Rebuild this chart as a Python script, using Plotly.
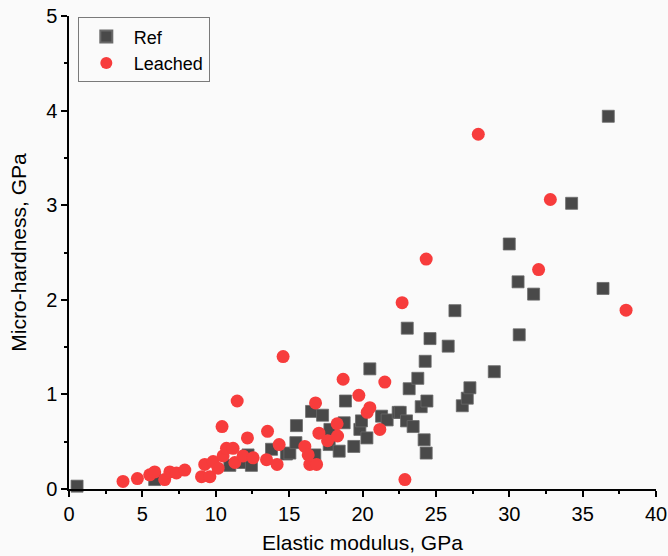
import plotly.graph_objects as go

ref_x = [0.55, 5.84, 10.96, 11.86, 12.43, 12.2, 13.8, 14.82, 15.05, 15.46, 15.5, 16.53, 16.75,
         17.28, 17.73, 17.78, 18.41, 18.84, 18.75, 19.41, 19.82, 19.93, 20.3, 20.5, 21.3,
         21.68, 22.43, 22.57, 23.0, 23.45, 23.05, 23.18, 23.77, 24.0, 24.39, 24.2, 24.34,
         24.27, 24.6, 25.84, 26.3, 26.8, 27.14, 27.32, 28.98, 30.0, 30.6, 30.68, 31.66,
         34.25, 36.39, 36.75]
ref_y = [0.03, 0.10, 0.25, 0.28, 0.25, 0.36, 0.42, 0.37, 0.38, 0.49, 0.67, 0.82, 0.36,
         0.78, 0.47, 0.63, 0.40, 0.93, 0.70, 0.45, 0.63, 0.72, 0.54, 1.27, 0.77,
         0.73, 0.81, 0.81, 0.72, 0.66, 1.70, 1.06, 1.17, 0.87, 0.93, 0.52, 0.38,
         1.35, 1.59, 1.51, 1.885, 0.88, 0.96, 1.07, 1.24, 2.59, 2.19, 1.63, 2.06,
         3.02, 2.12, 3.94]

leach_x = [3.68, 4.66, 5.5, 5.84, 6.52, 6.87, 7.32, 7.89, 9.03, 9.6, 9.25, 9.82, 10.16,
           10.5, 10.73, 11.18, 11.3, 10.43, 11.46, 11.86, 12.16, 12.55, 13.46, 13.53,
           14.18, 14.32, 14.59, 16.07, 16.3, 16.41, 16.87, 16.8, 17.03, 17.62, 18.27,
           18.3, 18.68, 19.75, 20.32, 20.5, 21.18, 21.52, 22.7, 22.89, 24.34, 27.89,
           32.0, 32.8, 37.96]
leach_y = [0.08, 0.11, 0.15, 0.18, 0.10, 0.18, 0.17, 0.20, 0.13, 0.13, 0.26, 0.29, 0.22,
           0.35, 0.43, 0.43, 0.28, 0.66, 0.93, 0.35, 0.54, 0.33, 0.31, 0.61,
           0.26, 0.47, 1.40, 0.45, 0.36, 0.26, 0.26, 0.91, 0.59, 0.51, 0.69,
           0.56, 1.16, 0.99, 0.81, 0.86, 0.63, 1.13, 1.97, 0.10, 2.43, 3.75,
           2.32, 3.06, 1.89]

fig = go.Figure()
fig.add_trace(go.Scatter(
    x=ref_x, y=ref_y, mode="markers", name="Ref", cliponaxis=False,
    marker=dict(symbol="square", size=12, color="#494949",
                line=dict(color="#6a6a6a", width=0.8))))
fig.add_trace(go.Scatter(
    x=leach_x, y=leach_y, mode="markers", name="Leached", cliponaxis=False,
    marker=dict(symbol="circle", size=13, color="#f73c3c",
                line=dict(color="#f73c3c", width=0))))

font = "Liberation Sans, Arial, sans-serif"
axis_common = dict(
    showline=True, linecolor="black", linewidth=1.5, mirror=False,
    ticks="outside", ticklen=6, tickwidth=1.5, tickcolor="black",
    showgrid=False, zeroline=False, automargin=False,
    tickfont=dict(family=font, size=20, color="black"),
)
fig.update_xaxes(range=[0, 40], dtick=5, tick0=0,
                 minor=dict(ticks="outside", ticklen=3, tickwidth=1.5, tickcolor="black", dtick=2.5),
                 title=dict(text="Elastic modulus, GPa", font=dict(family=font, size=21, color="black"), standoff=12),
                 **axis_common)
fig.update_yaxes(range=[0, 5], dtick=1, tick0=0,
                 minor=dict(ticks="outside", ticklen=3, tickwidth=1.5, tickcolor="black", dtick=0.5),
                 title=dict(text="Micro-hardness, GPa", font=dict(family=font, size=21, color="black"), standoff=14),
                 **axis_common)
fig.update_layout(
    width=668, height=556,
    margin=dict(l=69, r=12, t=16, b=67),
    paper_bgcolor="#fafafa", plot_bgcolor="#fafafa",
    showlegend=True,
    legend=dict(x=0.015, y=0.997, xanchor="left", yanchor="top",
                bgcolor="rgba(0,0,0,0)", bordercolor="#7a7a7a", borderwidth=1,
                font=dict(family=font, size=18, color="black"),
                itemwidth=45, itemsizing="constant", tracegroupgap=0),
)
fig.write_html("out.html")
